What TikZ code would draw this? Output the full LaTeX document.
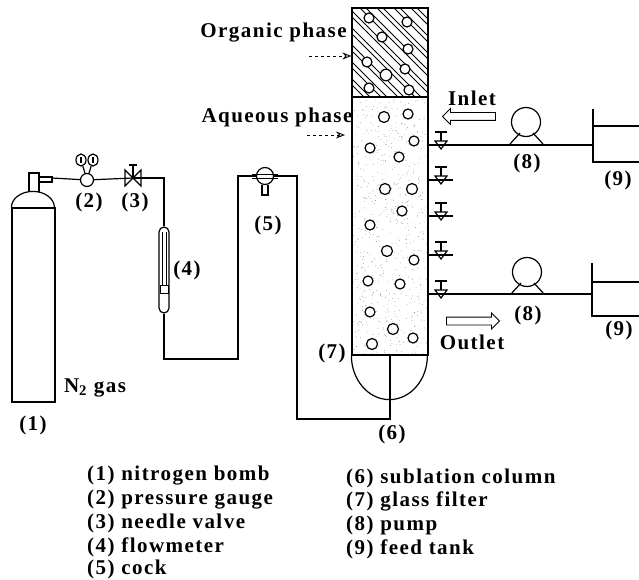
\documentclass[tikz,border=0pt]{standalone}
\usepackage{fontspec}
\setmainfont{Liberation Serif}[LetterSpace=7]
\usepackage{tikz}
\usetikzlibrary{shapes,arrows.meta}
\usetikzlibrary{calc}
\newcommand\mybubble[4][10]{%
  \node[mybubble,minimum size=#1pt] (#2) at (#3,#4) {};
}
\newcommand\myvalve[2]{%
  \coordinate (#1) at (441,#2);
  \draw[mypipe,fill=white] ($(#1)+(-6,-4)$) -- ($(#1)+(6,-4)$) -- ($(#1)+(0,4)$) -- cycle;
  \draw[mypipe] ($(#1)+(0,-4)$) -- ($(#1)+(0,-13)$);
  \draw[mypipe] ($(#1)+(-6,-13)$) -- ($(#1)+(6,-13)$);
}
\newcommand\mypump[3]{%
  \node[draw,circle,line width=1.2pt,minimum size=29pt,inner sep=0pt] (#1) at (#2,#3) {};
  \draw[mypipe] ($(#1)+(-16,22)$) -- ($(#1)+(-6,11)$);
  \draw[mypipe] ($(#1)+(17,22)$) -- ($(#1)+(7,11)$);
}
\begin{document}
\begin{tikzpicture}[
x=1pt,y=-1pt,
mypipe/.style={draw,line width=1.2pt},
mybubble/.style={circle,draw,fill=white,line width=1.2pt,inner sep=0pt},
mylabel/.style={font=\fontsize{21}{24}\selectfont\bfseries,inner sep=0pt},
mylist/.style={mylabel,anchor=west},
myarrow/.style={single arrow,draw,line width=.8pt,inner sep=3.5pt,minimum height=53pt,
  minimum width=15pt,single arrow head extend=4pt},
mydash/.style={line width=.9pt,dashed,-{Stealth[open,length=9pt,width=7pt]}}
]
\useasboundingbox (0,0) rectangle (639,580);

% bomb
\node[draw,line width=1.2pt,minimum width=43pt,minimum height=194pt,inner sep=0pt] (bomb) at (33.5,305) {};
\draw[mypipe] (bomb.north west) arc[start angle=180,end angle=0,x radius=21.5pt,y radius=16pt];
\draw[mypipe] (29,192) -- (29,173) -- (39,173) -- (39,192);
\draw[mypipe] (39,177) -- (52,177) -- (52,182) -- (39,182);
\coordinate (bombout) at (52,178);

% gauge
\node[draw,circle,line width=1.2pt,minimum size=13pt,inner sep=0pt] (gauge) at (87,180) {};
\node[draw,ellipse,line width=1.2pt,minimum width=10pt,minimum height=12pt,inner sep=0pt] (diala) at (81,160) {};
\node[draw,ellipse,line width=1.2pt,minimum width=10pt,minimum height=12pt,inner sep=0pt] (dialb) at (93,160) {};
\draw[mypipe] (diala) -- (gauge);
\draw[mypipe] (dialb) -- (gauge);
\draw[mypipe] (81,157) -- (81,163);
\draw[mypipe] (93,157) -- (93,163);

% needle valve
\coordinate (needle) at (133,178);
\draw[mypipe] (125,170) -- (141,186) -- (141,170) -- (125,186) -- cycle;
\draw[mypipe] (needle) -- (133,165);
\draw[mypipe] (129,165) -- (137,165);

% flowmeter
\node[draw,line width=1.2pt,rounded corners=5pt,minimum width=10pt,minimum height=86pt,inner sep=0pt] (flow) at (164,270) {};
\draw[line width=.7pt] (162,232) -- (162,285);
\draw[line width=.7pt] (166,232) -- (166,285);
\node[draw,fill=white,line width=.7pt,minimum width=8pt,minimum height=8pt,inner sep=0pt] (float) at (164.5,289) {};

% cock
\node[draw,circle,line width=1.2pt,minimum size=17pt,inner sep=0pt] (cock) at (265,176) {};
\draw[line width=.8pt] (252,174) -- (278,174);
\draw[line width=.8pt] (252,178) -- (278,178);
\draw[mypipe] (262,185) -- (262,195) -- (268,195) -- (268,185);

% column
\node[draw,line width=1.2pt,minimum width=76pt,minimum height=89pt,inner sep=0pt] (organic) at (390,52.5) {};
\node[draw,line width=1.2pt,minimum width=76pt,minimum height=258pt,inner sep=0pt] (aqueous) at (390,226) {};
\draw[mypipe] (aqueous.south west) arc[start angle=180,end angle=0,x radius=38pt,y radius=-44pt];
\begin{scope}
\clip (352,8) rectangle (428,97);
\foreach \c in {233,250,...,431}{
  \draw[line width=.9pt] (\c,0) -- ++(110,110);
  \draw[line width=.9pt] (\c+6,0) -- ++(110,110);
}
\end{scope}
\pgfmathsetseed{7}
\foreach \i in {1,...,650}{
  \pgfmathsetmacro\dotx{353+74*rnd}
  \pgfmathsetmacro\doty{98+256*rnd}
  \fill[black!50] (\dotx,\doty) circle[radius=.4pt];
}

% bubbles in organic phase
\mybubble{oa}{369}{18}
\mybubble{ob}{407}{22}
\mybubble{oc}{382}{37}
\mybubble{od}{408}{49}
\mybubble{oe}{367}{62}
\mybubble{of}{405}{69}
\mybubble[11.5]{og}{386}{75}
\mybubble{oh}{369}{88}
\mybubble{oi}{409}{90}
% bubbles in aqueous phase
\mybubble[11]{aa}{384}{117}
\mybubble{ab}{408}{114}
\mybubble{ac}{414}{141}
\mybubble{ad}{370}{148}
\mybubble{ae}{399}{157}
\mybubble[11]{af}{385}{189}
\mybubble[11]{ag}{412}{189}
\mybubble{ah}{402}{211}
\mybubble{ai}{370}{225}
\mybubble[11]{aj}{387}{251}
\mybubble{ak}{414}{260}
\mybubble{al}{368}{281}
\mybubble{am}{400}{284}
\mybubble{an}{370}{312}
\mybubble[11]{ao}{393}{329}
\mybubble{ap}{413}{338}
\mybubble[11]{aq}{372}{344}

% valves
\myvalve{va}{145}
\myvalve{vb}{180}
\myvalve{vc}{216}
\myvalve{vd}{255}
\myvalve{ve}{294}
\draw[mypipe] (aqueous.east |- vb) -- ($(vb)+(12,0)$);
\draw[mypipe] (aqueous.east |- vc) -- ($(vc)+(12,0)$);
\draw[mypipe] (aqueous.east |- vd) -- ($(vd)+(12,0)$);

% pumps and tanks
\mypump{pumpa}{526}{122}
\mypump{pumpb}{527}{272}
\coordinate (tanka) at (593,145);
\coordinate (tankb) at (592,294);
\draw[mypipe] (593,109) -- (593,162) -- (639,162);
\draw[mypipe] (593,126) -- (639,126);
\draw[mypipe] (592,263) -- (592,316) -- (639,316);
\draw[mypipe] (592,282) -- (639,282);
\draw[mypipe] (aqueous.east |- va) -- (tanka);
\draw[mypipe] (aqueous.east |- ve) -- (tankb);

% pipes
\coordinate (bendb) at (297,419);
\draw[mypipe] (bombout) -- (gauge);
\draw[mypipe] (gauge) -- (needle);
\draw[mypipe] (needle) -| (flow.north);
\coordinate (benda) at (238,359);
\draw[mypipe] (flow.south) |- (benda) |- (cock.west);
\draw[mypipe] (cock.east) -| (bendb) -| (aqueous.south);

% arrows
\node[myarrow,shape border rotate=180] (inlet) at (471,116.5) {};
\node[myarrow] (outlet) at (471,321) {};
\coordinate (orgstart) at (309,56);
\coordinate (aqstart) at (307,135);
\coordinate (aqend) at (345,135);
\draw[mydash] (orgstart) -- (organic.west |- orgstart);
\draw[mydash] (aqstart) -- (aqend);

% labels
\node[mylabel] (orglabel) at (273.5,33) {Organic phase};
\node[mylabel] (aqlabel) at (277,117) {Aqueous phase};
\node[mylabel] (inletlabel) at (472,98) {Inlet};
\node[mylabel] (outletlabel) at (472,342) {Outlet};
\node[mylabel] (gaslabel) at (95,388) {N\textsubscript{2} gas};
\node[mylabel] (la) at (33,425) {(1)};
\node[mylabel] (lb) at (89,202) {(2)};
\node[mylabel] (lc) at (135,202) {(3)};
\node[mylabel] (ld) at (187,270) {(4)};
\node[mylabel] (le) at (268,225) {(5)};
\node[mylabel] (lf) at (392,434) {(6)};
\node[mylabel] (lg) at (332,353) {(7)};
\node[mylabel] (lh) at (527,163) {(8)};
\node[mylabel] (li) at (618,180) {(9)};
\node[mylabel] (lj) at (528,315) {(8)};
\node[mylabel] (lk) at (619,330) {(9)};

% list
\node[mylist] (ta) at (87,476) {(1) nitrogen bomb};
\node[mylist] (tb) at (87,500) {(2) pressure gauge};
\node[mylist] (tc) at (87,523) {(3) needle valve};
\node[mylist] (td) at (87,547) {(4) flowmeter};
\node[mylist] (te) at (87,569) {(5) cock};
\node[mylist] (tf) at (346,478) {(6) sublation column};
\node[mylist] (tg) at (346,501) {(7) glass filter};
\node[mylist] (th) at (346,525) {(8) pump};
\node[mylist] (ti) at (346,549) {(9) feed tank};
\end{tikzpicture}
\end{document}
